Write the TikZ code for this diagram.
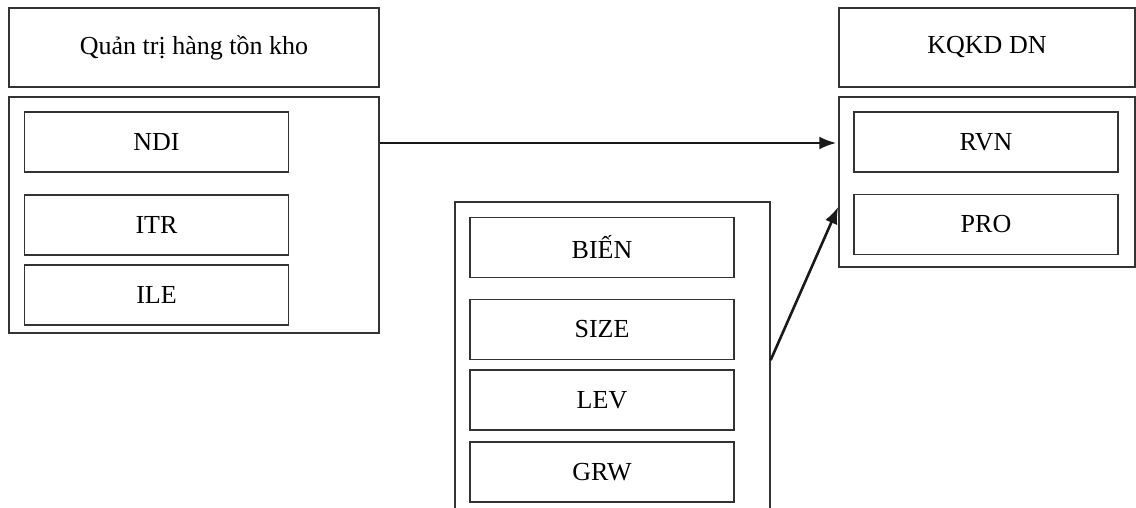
\documentclass[tikz,border=0pt]{standalone}
\usepackage{fontspec}
\setmainfont{Liberation Serif}
\usetikzlibrary{arrows.meta}

\begin{document}
\begin{tikzpicture}[x=1pt,y=-1pt]
	\tikzstyle{box}=[draw=black!80,line width=1.3pt,inner sep=0pt,font=\fontsize{26}{30}\selectfont]
	\tikzstyle{item}=[box,minimum width=264pt,minimum height=60pt]
	\tikzstyle{link}=[draw=black!90,line width=2.6pt,-{Latex[length=17pt,width=13pt]}]
	\useasboundingbox (0,0) rectangle (1136,508);
	\clip (0,0) rectangle (1136,508);
	% left group
	\node[box,minimum width=370pt,minimum height=79pt] (qt) at (194,47.5) {Quản trị hàng tồn kho};
	\node[box,minimum width=370pt,minimum height=236pt] (qtbox) at (194,215) {};
	\node[item] (ndi) at (156.5,142) {NDI};
	\node[item] (itr) at (156.5,225) {ITR};
	\node[item] (ile) at (156.5,295) {ILE};
	% middle group
	\node[box,minimum width=315pt,minimum height=330pt] (bienbox) at (612.5,367) {};
	\node[item] (bien) at (602,247.5) {BIẾN};
	\node[item] (size) at (602,329.5) {SIZE};
	\node[item] (lev) at (602,400) {LEV};
	\node[item] (grw) at (602,472) {GRW};
	% right group
	\node[box,minimum width=296pt,minimum height=79pt] (kq) at (987,47.5) {KQKD DN};
	\node[box,minimum width=296pt,minimum height=170pt] (kqbox) at (987,182) {};
	\node[item] (rvn) at (986,142) {RVN};
	\node[item] (pro) at (986,224.5) {PRO};
	\coordinate (in2) at (839,205);
	% links
	\draw[link,shorten >=2pt] (qtbox.east |- 0,143) -- (kqbox.west |- 0,143);
	\draw[link,shorten >=2pt] (bienbox.east |- size.south) -- (in2);
\end{tikzpicture}
\end{document}
